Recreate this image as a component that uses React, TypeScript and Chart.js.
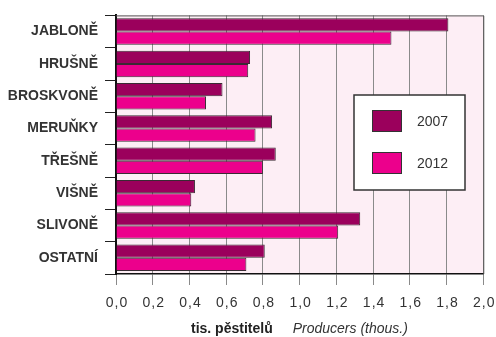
import React, { useEffect, useRef } from "react";
import { Chart, registerables } from "chart.js";

Chart.register(...registerables);

const categories = ["JABLONĚ", "HRUŠNĚ", "BROSKVONĚ", "MERUŇKY", "TŘEŠNĚ", "VIŠNĚ", "SLIVONĚ", "OSTATNÍ"];
const values2007 = [1.81, 0.73, 0.58, 0.85, 0.87, 0.43, 1.33, 0.81];
const values2012 = [1.5, 0.72, 0.49, 0.76, 0.8, 0.41, 1.21, 0.71];
const seriesLabels = ["2007", "2012"];
const seriesColors = ["#9b005c", "#ec008c"];
const axisTitleCz = "tis. pěstitelů";
const axisTitleEn = "Producers (thous.)";
const xMin = 0;
const xMax = 2;
const xStep = 0.2;

const fmt = (v: number) => v.toFixed(1).replace(".", ",");

const decorPlugin = {
  id: "decor",
  beforeDraw(chart: any) {
    const { ctx, chartArea } = chart;
    ctx.save();
    ctx.fillStyle = "#fdeef5";
    ctx.fillRect(chartArea.left, chartArea.top, chartArea.right - chartArea.left, chartArea.bottom - chartArea.top);
    ctx.restore();
  },
  afterDatasetsDraw(chart: any) {
    const { ctx, chartArea } = chart;
    ctx.save();
    ctx.strokeStyle = "#555";
    ctx.lineWidth = 1;
    ctx.beginPath();
    ctx.moveTo(chartArea.left, chartArea.top + 0.5);
    ctx.lineTo(chartArea.right + 0.5, chartArea.top + 0.5);
    ctx.lineTo(chartArea.right + 0.5, chartArea.bottom);
    ctx.stroke();
    ctx.restore();
  },
  afterDraw(chart: any) {
    const { ctx, chartArea } = chart;
    const xs = chart.scales.x;
    ctx.save();
    ctx.fillStyle = "#333";
    ctx.font = "14px 'Liberation Sans', Arial, sans-serif";
    (ctx as any).letterSpacing = "1px";
    ctx.textAlign = "center";
    ctx.textBaseline = "middle";
    xs.ticks.forEach((t: any) => {
      const px = xs.getPixelForValue(t.value);
      ctx.fillText(fmt(t.value), px + 1, chartArea.bottom + 29);
    });
    (ctx as any).letterSpacing = "0px";
    const y = chartArea.bottom + 55;
    ctx.textAlign = "left";
    ctx.fillStyle = "#222";
    ctx.font = "bold 14px 'Liberation Sans', Arial, sans-serif";
    const x0 = 191;
    ctx.fillText(axisTitleCz, x0, y);
    const w = ctx.measureText(axisTitleCz).width;
    ctx.font = "italic 14px 'Liberation Sans', Arial, sans-serif";
    ctx.fillStyle = "#333";
    ctx.fillText(axisTitleEn, x0 + w + 20, y);

    const bx = 354, by = 95, bw = 111, bh = 95;
    ctx.fillStyle = "#ffffff";
    ctx.fillRect(bx, by, bw, bh);
    ctx.strokeStyle = "#333";
    ctx.lineWidth = 1.5;
    ctx.strokeRect(bx, by, bw, bh);
    chart.data.datasets.forEach((ds: any, i: number) => {
      const sy = by + 15 + i * 42;
      ctx.fillStyle = ds.backgroundColor;
      ctx.fillRect(bx + 18, sy, 30, 22);
      ctx.strokeStyle = "#333";
      ctx.lineWidth = 1;
      ctx.strokeRect(bx + 18.5, sy + 0.5, 29, 21);
      ctx.fillStyle = "#333";
      ctx.font = "14px 'Liberation Sans', Arial, sans-serif";
      ctx.textAlign = "left";
      ctx.textBaseline = "middle";
      ctx.fillText(ds.label, bx + 63, sy + 12);
    });
    ctx.restore();
  },
};

export default function App() {
  const ref = useRef<HTMLCanvasElement | null>(null);
  useEffect(() => {
    if (!ref.current) return;
    const chart = new Chart(ref.current, {
      type: "bar",
      data: {
        labels: categories,
        datasets: [
          {
            label: seriesLabels[0],
            data: values2007,
            backgroundColor: seriesColors[0],
            borderColor: "#3a2a33",
            borderWidth: 1,
            categoryPercentage: 0.82,
            barPercentage: 1,
          },
          {
            label: seriesLabels[1],
            data: values2012,
            backgroundColor: seriesColors[1],
            borderColor: "#3a2a33",
            borderWidth: 1,
            categoryPercentage: 0.82,
            barPercentage: 1,
          },
        ],
      },
      options: {
        indexAxis: "y",
        animation: false,
        responsive: false,
        maintainAspectRatio: false,
        layout: { padding: { top: 9, right: 11, left: 0, bottom: 0 } },
        plugins: {
          legend: { display: false },
          tooltip: { enabled: false },
        },
        scales: {
          x: {
            min: xMin,
            max: xMax,
            ticks: {
              stepSize: xStep,
              color: "rgba(0,0,0,0)",
              callback: (v: any) => fmt(Number(v)),
              font: { size: 14 },
            },
            grid: {
              color: "#8a8a8a",
              tickColor: "#8a8a8a",
              tickLength: 11,
              lineWidth: 1,
            },
            border: { display: true, color: "#111", width: 1.5 },
            afterFit: (s: any) => {
              s.height = 63;
            },
          },
          y: {
            ticks: {
              color: "#333",
              font: { size: 14, weight: "bold", family: "'Liberation Sans', Arial, sans-serif" },
              padding: 7,
            },
            grid: {
              drawOnChartArea: false,
              color: "#222",
              tickLength: 11,
              offset: true,
            },
            border: { display: true, color: "#111", width: 2 },
            afterFit: (s: any) => {
              s.width = 116;
            },
          },
        },
      },
      plugins: [decorPlugin],
    });
    return () => chart.destroy();
  }, []);
  return (
    <div style={{ position: "absolute", left: 0, top: 0, width: 496, height: 337 }}>
      <canvas ref={ref} width={496} height={337} style={{ width: 496, height: 337 }} />
    </div>
  );
}
